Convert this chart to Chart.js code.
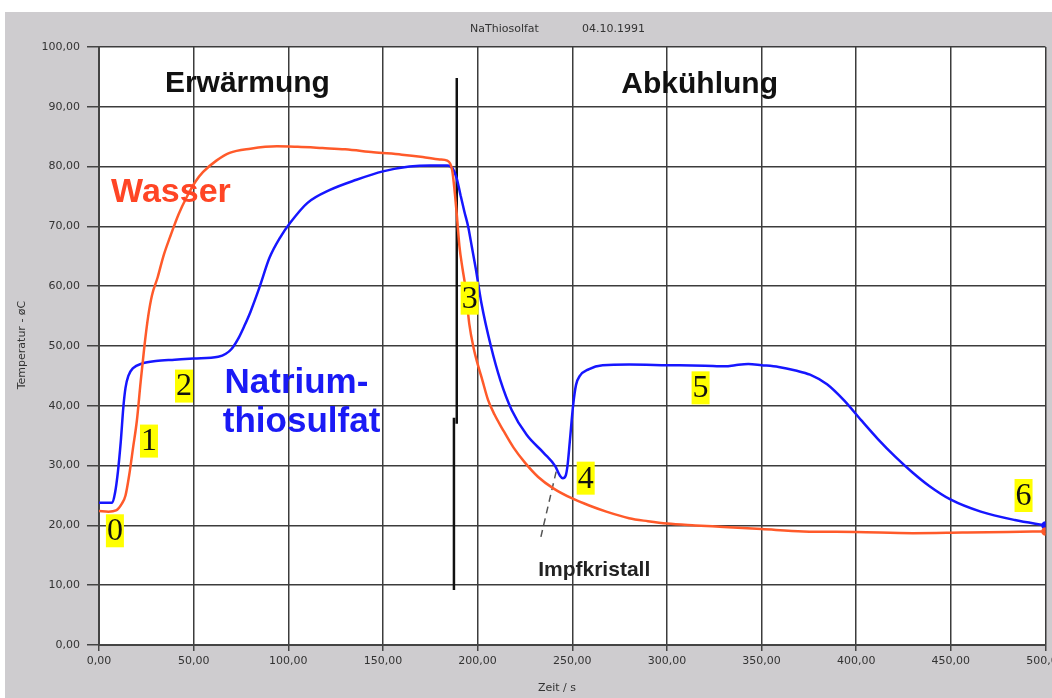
<!DOCTYPE html>
<html>
<head>
<meta charset="utf-8">
<title>NaThiosolfat</title>
<script src="https://cdn.jsdelivr.net/npm/chart.js"></script>
<style>
  html, body { margin: 0; padding: 0; background: #fff; }
</style>
</head>
<body>
<canvas id="chart" width="1052" height="698"></canvas>
<script>
// Wasser (time s / temperature)
const wasserTime = [0, 5, 9, 12, 14, 16, 18, 20, 22, 24, 26, 28, 31, 34, 37.5, 42, 46.5, 51, 55, 62, 69, 80, 94, 105, 118, 130, 145, 160, 171, 180, 184, 186.5, 188, 189, 190.4, 192, 193.5, 195.6, 198, 200, 202.5, 205.5, 209, 213, 219, 225, 232, 240, 250, 260, 268, 280, 290, 300, 315, 330, 350, 372, 400, 430, 456, 480, 500];
const wasserTemp = [22.4, 22.3, 22.5, 23.6, 25, 28.5, 33, 37.5, 44, 50, 55, 58.5, 61.5, 65, 68.2, 72, 75, 77.5, 79.1, 81, 82.3, 83, 83.4, 83.3, 83.1, 82.9, 82.4, 82, 81.6, 81.2, 81, 79.5, 75.5, 72, 66.7, 63, 60, 53.7, 49.5, 47, 44.3, 41, 38.5, 36.2, 33, 30.5, 28.1, 26.2, 24.5, 23.2, 22.3, 21.2, 20.7, 20.3, 20, 19.75, 19.4, 19.0, 18.9, 18.7, 18.8, 18.9, 19.0];

// Natriumthiosulfat
const natriumTime = [0, 7, 8.5, 10, 11.5, 12.9, 14, 15.5, 18, 23, 30, 40, 50, 63, 67, 70, 74, 77, 80, 85, 90, 96, 101, 110, 122, 136, 150, 164, 175, 184, 187, 189, 191, 193, 195, 197, 199, 202, 207, 212, 218, 226, 235, 241, 243.5, 245, 246.5, 247.5, 248.7, 250.5, 252, 254, 258.6, 266, 280, 300, 320, 331, 336, 343, 350, 359, 368, 375.6, 384.6, 393.6, 402.6, 411.6, 420.6, 429.6, 438.6, 450, 465.8, 483.8, 500];
const natriumTemp = [23.8, 23.8, 25.5, 29, 34, 39.9, 43, 45, 46.3, 47.1, 47.5, 47.7, 47.9, 48.2, 48.7, 49.5, 51.5, 53.5, 55.7, 60, 64.7, 68.3, 70.6, 73.9, 76.1, 77.8, 79.2, 80, 80.2, 80.2, 79.6, 78, 75.2, 72.5, 70, 66.5, 63, 57.2, 50, 44.3, 39.3, 35.1, 32.1, 29.9, 28.3, 27.9, 28.3, 30, 34, 40.2, 43.5, 45, 46.1, 46.8, 46.9, 46.8, 46.7, 46.6, 46.8, 47.0, 46.8, 46.5, 45.9, 45.2, 43.6, 40.9, 37.6, 34.4, 31.5, 28.9, 26.6, 24.3, 22.3, 20.9, 20.0];

// marker line at heating stop, Impfkristall pointer
const stopTime = [189, 189, null, 187.5, 187.5];
const stopTemp = [94.8, 37, null, 38, 9.2];
const seedTime = [241.5, 233];
const seedTemp = [29, 17.5];

const xTicks = [0, 50, 100, 150, 200, 250, 300, 350, 400, 450, 500];

// text annotations (data coordinates)
const phaseNotes = [
  { text: "Erwärmung", x: 78.4, y: 92.5 },
  { text: "Abkühlung", x: 317.3, y: 92.3 }
];
const seriesNotes = [
  { text: "Wasser", x: 38, y: 74.1, color: "#ff4525" },
  { text: "Natrium-", x: 104.3, y: 42.1, color: "#1a1af5" },
  { text: "thiosulfat", x: 107, y: 35.7, color: "#1a1af5" }
];
const stepNotes = [
  { text: "0", x: 8.4, y: 19.1 },
  { text: "1", x: 26.4, y: 34.1 },
  { text: "2", x: 44.9, y: 43.3 },
  { text: "3", x: 195.8, y: 58 },
  { text: "4", x: 257.1, y: 27.9 },
  { text: "5", x: 317.8, y: 43 },
  { text: "6", x: 488.4, y: 25 }
];

function pts(xs, ys) {
  return xs.map((x, i) => ({ x: x, y: ys[i] }));
}

const lastDot = (n) => (ctx) => ctx.dataIndex === n - 1 ? 3 : 0;

const noPad = (s) => {
  s.paddingLeft = 0; s.paddingRight = 0; s.paddingTop = 0; s.paddingBottom = 0;
};

const decor = {
  id: "decor",
  beforeDraw(chart) {
    const c = chart.ctx, a = chart.chartArea;
    c.save();
    c.fillStyle = "#fff";
    c.fillRect(0, 0, chart.width, chart.height);
    c.fillStyle = "#cecccf";
    c.fillRect(5, 12, chart.width - 5, chart.height - 12);
    c.fillStyle = "#fff";
    c.fillRect(a.left, a.top, a.right - a.left, a.bottom - a.top);

    c.fillStyle = "#333";
    c.font = "11px 'DejaVu Sans'";
    c.textBaseline = "middle";
    c.textAlign = "left";
    c.fillText("NaThiosolfat", 470, 29);
    c.fillText("04.10.1991", 582, 29);
    c.textAlign = "center";
    c.fillText("Zeit / s", 557, 688);
    c.translate(22, 345);
    c.rotate(-Math.PI / 2);
    c.fillText("Temperatur - øC", 0, 0);
    c.restore();
  },
  afterDatasetsDraw(chart) {
    const c = chart.ctx;
    const xs = chart.scales.x, ys = chart.scales.y;
    c.save();
    c.textAlign = "center";
    c.textBaseline = "alphabetic";
    c.fillStyle = "#111";
    c.font = "bold 30px 'Liberation Sans'";
    phaseNotes.forEach(n => c.fillText(n.text, xs.getPixelForValue(n.x), ys.getPixelForValue(n.y)));
    seriesNotes.forEach(n => {
      c.fillStyle = n.color;
      c.font = n.text === "Wasser" ? "bold 34px 'Liberation Sans'" : "bold 35px 'Liberation Sans'";
      c.fillText(n.text, xs.getPixelForValue(n.x), ys.getPixelForValue(n.y));
    });
    c.fillStyle = "#222";
    c.font = "bold 21px 'Liberation Sans'";
    c.fillText("Impfkristall", xs.getPixelForValue(261.6), ys.getPixelForValue(11.6));

    c.font = "32px 'Liberation Serif'";
    c.textBaseline = "middle";
    stepNotes.forEach(n => {
      const px = xs.getPixelForValue(n.x), py = ys.getPixelForValue(n.y);
      const w = c.measureText(n.text).width + 2;
      c.fillStyle = "#ffff00";
      c.fillRect(px - w / 2, py - 16.5, w, 33);
      c.fillStyle = "#111";
      c.fillText(n.text, px, py + 1);
    });
    c.restore();
  }
};

new Chart(document.getElementById("chart"), {
  type: "line",
  data: {
    datasets: [
      {
        label: "Wasser",
        data: pts(wasserTime, wasserTemp),
        borderColor: "#ff5a2a",
        backgroundColor: "#ff5a2a",
        borderWidth: 2.5,
        pointRadius: lastDot(wasserTime.length),
        cubicInterpolationMode: "monotone"
      },
      {
        label: "Natriumthiosulfat",
        data: pts(natriumTime, natriumTemp),
        borderColor: "#1616ff",
        backgroundColor: "#1616ff",
        borderWidth: 2.5,
        pointRadius: lastDot(natriumTime.length),
        cubicInterpolationMode: "monotone"
      },
      {
        label: "stop",
        data: pts(stopTime, stopTemp),
        borderColor: "#111",
        borderWidth: 2.5,
        pointRadius: 0,
        tension: 0,
        spanGaps: false
      },
      {
        label: "seed",
        data: pts(seedTime, seedTemp),
        borderColor: "#555",
        borderWidth: 1.5,
        borderDash: [7, 5],
        pointRadius: 0,
        tension: 0
      }
    ]
  },
  plugins: [decor],
  options: {
    responsive: false,
    devicePixelRatio: 1,
    animation: false,
    layout: { padding: { left: 0, right: 6, top: 47, bottom: 0 } },
    plugins: { legend: { display: false }, tooltip: { enabled: false } },
    scales: {
      x: {
        type: "linear",
        min: 0,
        max: 500,
        afterFit: (s) => { s.height = 53; noPad(s); },
        afterBuildTicks: (s) => { s.ticks = xTicks.map(v => ({ value: v })); },
        grid: { color: "#3c3c3c", lineWidth: 1.5, tickLength: 6, tickColor: "#444" },
        border: { color: "#444", width: 2 },
        ticks: {
          padding: 4,
          color: "#333",
          font: { family: "DejaVu Sans", size: 11 },
          maxRotation: 0,
          callback: (v) => v.toFixed(2).replace(".", ",")
        }
      },
      y: {
        min: 0,
        max: 100,
        afterFit: (s) => { s.width = 99; noPad(s); },
        grid: { color: "#3c3c3c", lineWidth: 1.5, tickLength: 12, tickColor: "#444" },
        border: { color: "#444", width: 2 },
        ticks: {
          stepSize: 10,
          padding: 7,
          color: "#333",
          font: { family: "DejaVu Sans", size: 11 },
          callback: (v) => v.toFixed(2).replace(".", ",")
        }
      }
    }
  }
});
</script>
</body>
</html>
